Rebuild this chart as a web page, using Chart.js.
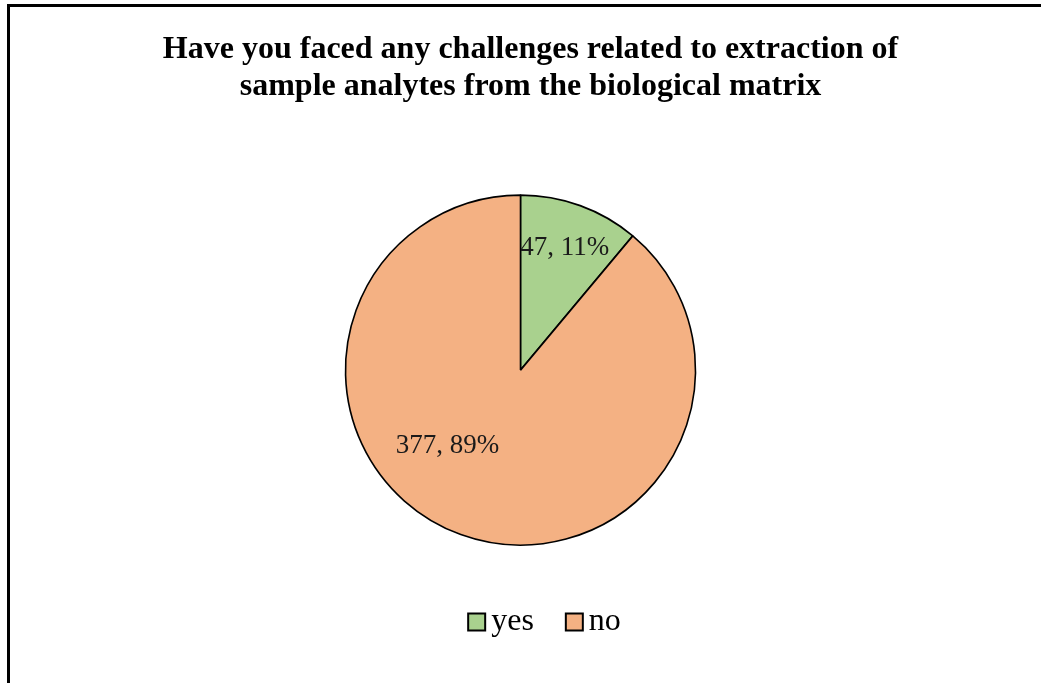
<!DOCTYPE html>
<html>
<head>
<meta charset="utf-8">
<script src="https://cdn.jsdelivr.net/npm/chart.js@4/dist/chart.umd.min.js"></script>
<style>
  html, body { margin: 0; padding: 0; background: #fff; }
  #wrap { position: absolute; left: 0; top: 0; width: 1041px; height: 683px; }
  #frame {
    position: absolute; left: 7px; top: 4px; right: 0; bottom: 0;
    border-top: 3px solid #000; border-left: 3px solid #000;
    pointer-events: none;
  }
</style>
</head>
<body>
<div id="wrap">
  <canvas id="pieChart" width="1041" height="683"></canvas>
  <div id="frame"></div>
</div>
<script>
// Dữ liệu biểu đồ
const categories = ["yes", "no"];
const counts = [47, 377];
const percents = [11, 89];
const sliceColors = ["#A9D18E", "#F4B183"];

// Vị trí nhãn trong lát (tỉ lệ góc, tỉ lệ bán kính)
const labelPlacement = [
  { angle: 0.5, radius: 0.74 },
  { angle: 0.575, radius: 0.6 },
];

// Plugin vẽ nhãn dữ liệu
const sliceLabels = {
  id: "sliceLabels",
  afterDatasetsDraw(chart) {
    const ctx = chart.ctx;
    const meta = chart.getDatasetMeta(0);
    ctx.save();
    ctx.font = "27px 'Liberation Serif'";
    ctx.fillStyle = "#1a1a1a";
    ctx.textAlign = "center";
    ctx.textBaseline = "middle";
    meta.data.forEach((arc, i) => {
      const p = arc.getProps(["x", "y", "startAngle", "endAngle", "outerRadius"], true);
      const place = labelPlacement[i];
      const a = p.startAngle + (p.endAngle - p.startAngle) * place.angle;
      const r = p.outerRadius * place.radius;
      const text = counts[i] + ", " + percents[i] + "%";
      ctx.fillText(text, p.x + Math.cos(a) * r, p.y + Math.sin(a) * r);
    });
    ctx.restore();
  },
};

// Dịch tiêu đề sang phải một chút
const titleShift = {
  id: "titleShift",
  afterLayout(chart, args, opts) {
    if (chart.titleBlock) chart.titleBlock.left += opts.dx * 2;
  },
};

// Plugin vẽ chú thích (kiểu Excel: ô vuông sát chữ)
const bottomLegend = {
  id: "bottomLegend",
  afterDraw(chart, args, opts) {
    const ctx = chart.ctx;
    ctx.save();
    ctx.font = opts.fontSize + "px 'Liberation Serif'";
    ctx.textBaseline = "middle";
    ctx.textAlign = "left";
    const widths = categories.map(
      (c) => opts.box + opts.gap + ctx.measureText(c).width
    );
    const total =
      widths.reduce((a, b) => a + b, 0) + opts.itemGap * (categories.length - 1);
    let x = chart.width / 2 + opts.offsetX - total / 2;
    const y = chart.chartArea.bottom + opts.offsetY;
    categories.forEach((c, i) => {
      ctx.fillStyle = sliceColors[i];
      ctx.fillRect(x, y - opts.box / 2, opts.box, opts.box);
      ctx.strokeStyle = "#000";
      ctx.lineWidth = 2;
      ctx.strokeRect(x, y - opts.box / 2, opts.box, opts.box);
      ctx.fillStyle = "#000";
      ctx.fillText(c, x + opts.box + opts.gap, y);
      x += widths[i] + opts.itemGap;
    });
    ctx.restore();
  },
};

const ctx = document.getElementById("pieChart").getContext("2d");
window.pieChart = new Chart(ctx, {
  type: "pie",
  data: {
    labels: categories,
    datasets: [
      {
        data: counts,
        backgroundColor: sliceColors,
        borderColor: "#000",
        borderWidth: 1.6,
        radius: 175,
      },
    ],
  },
  options: {
    responsive: false,
    animation: false,
    layout: {
      padding: { bottom: 103 },
    },
    plugins: {
      title: {
        display: true,
        text: [
          "Have you faced any challenges related to extraction of",
          "sample analytes from the biological matrix",
        ],
        color: "#000",
        font: { family: "'Liberation Serif'", size: 32, weight: "bold", lineHeight: 1.16 },
        padding: { top: 31, bottom: 55 },
      },
      titleShift: { dx: 10 },
      legend: { display: false },
      bottomLegend: {
        fontSize: 32,
        box: 17,
        gap: 6,
        itemGap: 32,
        offsetX: 24,
        offsetY: 42,
      },
      tooltip: { enabled: false },
    },
  },
  plugins: [sliceLabels, titleShift, bottomLegend],
});
</script>
</body>
</html>
